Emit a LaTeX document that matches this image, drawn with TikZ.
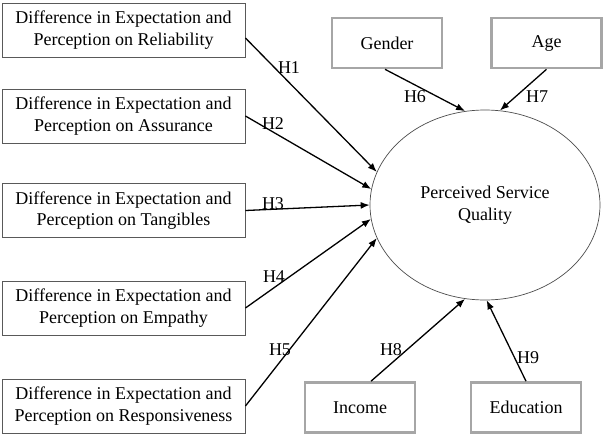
\documentclass[tikz,border=0pt]{standalone}
\usepackage{fontspec}
\setmainfont{Liberation Serif}
\usetikzlibrary{arrows.meta,shapes.geometric}
\begin{document}
\begin{tikzpicture}[x=1pt,y=-1pt,
  every node/.style={font=\fontsize{18}{21.6}\selectfont, inner sep=0pt},
  dimbox/.style={draw=black!65, line width=0.9pt, minimum width=243pt, minimum height=54pt, align=center},
  ctrlbox/.style={draw=black!35, line width=2.6pt, minimum width=110pt, minimum height=50pt},
  arr/.style={line width=1.3pt, -{Latex[length=9pt,width=7pt]}},
  hlab/.style={}]
\useasboundingbox (0,0) rectangle (603,442);
\node[dimbox] (r1) at (123.5,30) {Difference in Expectation and\\Perception on Reliability};
\node[dimbox] (r2) at (123.5,116) {Difference in Expectation and\\Perception on Assurance};
\node[dimbox] (r3) at (123.5,210.5) {Difference in Expectation and\\Perception on Tangibles};
\node[dimbox] (r4) at (123.5,308) {Difference in Expectation and\\Perception on Empathy};
\node[dimbox] (r5) at (123.5,406) {Difference in Expectation and\\Perception on Responsiveness};
\node[ctrlbox] (gen) at (387,43) {Gender};
\node[ctrlbox] (age) at (546.5,43) {Age};
\node[ctrlbox] (inc) at (360,407.5) {Income};
\node[ctrlbox] (edu) at (526,407.5) {Education};
\node[ellipse, draw=black!70, line width=0.7pt, minimum width=230pt, minimum height=190pt, align=center] (pq) at (485,205) {Perceived Service\\Quality};
\draw[arr] ([yshift=-8pt]r1.east) -- (pq.163.6);
\draw[arr] (r2.east) -- (pq.172.6);
\draw[arr] (r3.east) -- (pq.180);
\draw[arr] (r4.east) -- (pq.187.5);
\draw[arr] (r5.east) -- (pq.197.5);
\draw[arr] ([xshift=-2pt]gen.south) -- (pq.102);
\draw[arr] (age.south) -- (pq.81);
\draw[arr] ([xshift=11pt]inc.north) -- (pq.258.5);
\draw[arr] (edu.north) -- (pq.271);
\node[hlab] (h1) at (289,68) {H1};
\node[hlab] (h2) at (273,124) {H2};
\node[hlab] (h3) at (273,204) {H3};
\node[hlab] (h4) at (274,277) {H4};
\node[hlab] (h5) at (280,350) {H5};
\node[hlab] (h6) at (415,97) {H6};
\node[hlab] (h7) at (537,97) {H7};
\node[hlab] (h8) at (391,350) {H8};
\node[hlab] (h9) at (528,358) {H9};
\end{tikzpicture}
\end{document}
